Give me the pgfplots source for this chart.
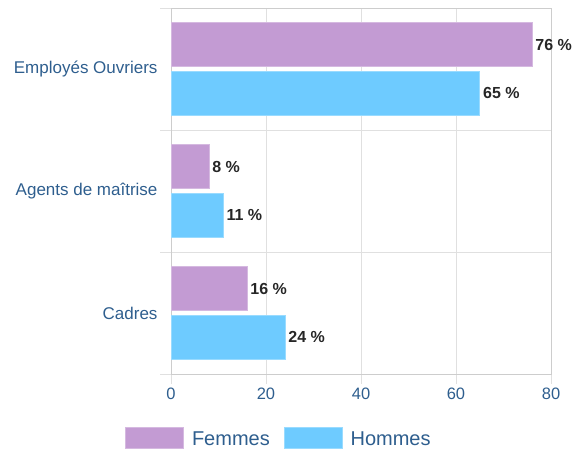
\documentclass[border=0pt]{standalone}
\usepackage{pgfplots}
\pgfplotsset{compat=1.18}
\usepackage{fontspec}
\setmainfont{Liberation Sans}
\definecolor{fem}{HTML}{C39BD3}
\definecolor{hom}{HTML}{6ECBFF}
\definecolor{lab}{HTML}{2E5E8E}
\definecolor{gridc}{HTML}{E0E0E0}
\begin{document}
\begin{tikzpicture}
\useasboundingbox (0pt,0pt) rectangle (577pt,451pt);
\begin{axis}[
  at={(171pt,77pt)}, anchor=south west,
  scale only axis, width=380pt, height=366pt,
  xbar, xmin=0, xmax=80, ymin=-0.5, ymax=2.5,
  bar width=0.36,
  xtick={0,20,40,60,80},
  ytick={0,1,2},
  yticklabels={Cadres,Agents de maîtrise,Employés Ouvriers},
  minor ytick={-0.5,0.5,1.5,2.5},
  xtick pos=bottom, ytick pos=left,
  xmajorgrids, yminorgrids,
  grid style={gridc, line width=0.8pt},
  axis line style={draw=gridc!80!gray, line width=0.8pt},
  tick align=outside,
  major tick length=10pt, minor tick length=11pt,
  major x tick style={gridc, line width=0.8pt},
  major y tick style={draw=none},
  minor y tick style={gridc, line width=0.8pt},
  xticklabel style={font=\fontsize{16.5}{19}\selectfont, text=lab},
  yticklabel style={font=\fontsize{17}{20}\selectfont, text=lab},
  /pgf/number format/assume math mode=true,
  nodes near coords={\pgfmathprintnumber\pgfplotspointmeta\ \%},
  every node near coord/.append style={font=\fontsize{16}{19}\selectfont\bfseries, text=black!85, inner sep=3pt},
  legend columns=2,
  legend style={draw=none, inner sep=0pt, at={(-0.121,-0.175)}, anchor=west,
    font=\fontsize{20}{24}\selectfont, text=lab,
    column sep=6pt,
    /tikz/every even column/.append style={column sep=12pt}},
  legend image code/.code={\fill[#1] (0pt,-9pt) rectangle (58pt,12pt);},
]
\addplot[fill=fem, draw=fem!70!white, line width=0.8pt, bar shift=0.2] coordinates {(16,0) (8,1) (76,2)};
\addlegendentry{Femmes}
\addplot[fill=hom, draw=hom!70!white, line width=0.8pt, bar shift=-0.2] coordinates {(24,0) (11,1) (65,2)};
\addlegendentry{Hommes}
\end{axis}
\end{tikzpicture}
\end{document}
